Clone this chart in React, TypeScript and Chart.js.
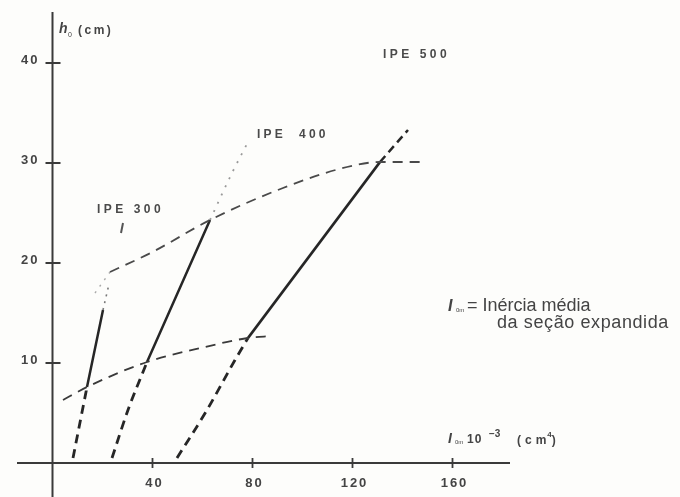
import { useEffect, useRef } from "react";
import { Chart, registerables } from "chart.js";

Chart.register(...registerables);

type P = { x: number; y: number };

// Axis ticks
const xTicks = [40, 80, 120, 160];
const yTicks = [10, 20, 30, 40];

// IPE 300
const ipe300Lower: P[] = [{ x: 8.2, y: 0.5 }, { x: 13.8, y: 7.6 }];
const ipe300Solid: P[] = [{ x: 13.8, y: 7.6 }, { x: 20.2, y: 15.3 }];
const ipe300Dotted: P[] = [{ x: 20.2, y: 15.3 }, { x: 22.6, y: 17.9 }];
const ipe300Hint: P[] = [{ x: 27.4, y: 23.0 }, { x: 28.2, y: 24.0 }];

// IPE 400
const ipe400Lower: P[] = [{ x: 23.8, y: 0.5 }, { x: 30.2, y: 5.3 }, { x: 37.8, y: 10.1 }];
const ipe400Solid: P[] = [{ x: 37.8, y: 10.1 }, { x: 63, y: 24.3 }];
const ipe400Dotted: P[] = [{ x: 63, y: 24.3 }, { x: 71.8, y: 29 }, { x: 78.2, y: 32.1 }];

// IPE 500
const ipe500Lower: P[] = [{ x: 49.8, y: 0.5 }, { x: 61.8, y: 5.3 }, { x: 73, y: 10.3 }, { x: 78.2, y: 12.5 }];
const ipe500Solid: P[] = [{ x: 78.2, y: 12.5 }, { x: 131, y: 30.1 }];
const ipe500Upper: P[] = [{ x: 131, y: 30.1 }, { x: 142.2, y: 33.3 }];

// Envelopes
const upperEnvDotted: P[] = [{ x: 17, y: 17 }, { x: 23, y: 19.1 }];
const upperEnv: P[] = [
  { x: 23, y: 19.1 }, { x: 40, y: 21.1 }, { x: 63, y: 24.3 }, { x: 92.2, y: 27.5 },
  { x: 117.8, y: 29.6 }, { x: 131, y: 30.1 }, { x: 147, y: 30.1 },
];
const lowerEnv: P[] = [
  { x: 4.2, y: 6.3 }, { x: 13.8, y: 7.6 }, { x: 37.8, y: 10.1 }, { x: 61, y: 11.6 },
  { x: 78.2, y: 12.5 }, { x: 87.8, y: 12.7 },
];

const INK = "#262626";
const FONT = "'Liberation Sans', Arial, sans-serif";

function line(data: P[], color: string, width: number, dash: number[]) {
  return {
    data,
    showLine: true,
    pointRadius: 0,
    pointHoverRadius: 0,
    fill: false,
    borderColor: color,
    borderWidth: width,
    borderDash: dash,
    cubicInterpolationMode: "monotone" as const,
    tension: 0.4,
  };
}

function put(ctx: any, text: string, x: number, y: number, font: string, spacing: number) {
  ctx.font = font;
  ctx.letterSpacing = spacing + "px";
  ctx.fillText(text, x, y);
  return x + ctx.measureText(text).width;
}

const decor = {
  id: "decor",
  beforeDraw(chart: any) {
    const ctx = chart.ctx;
    ctx.save();
    ctx.fillStyle = "#fdfdfb";
    ctx.fillRect(0, 0, chart.width, chart.height);
    ctx.restore();
  },
  beforeDatasetsDraw(chart: any) {
    const { ctx, chartArea } = chart;
    const xs = chart.scales.x;
    const ys = chart.scales.y;
    const x0 = xs.getPixelForValue(0);
    const y0 = ys.getPixelForValue(0);
    ctx.save();
    ctx.strokeStyle = "#3a3a3a";
    ctx.lineWidth = 2;
    ctx.beginPath();
    ctx.moveTo(x0, chartArea.top);
    ctx.lineTo(x0, chartArea.bottom);
    ctx.moveTo(chartArea.left, y0);
    ctx.lineTo(chartArea.right, y0);
    ctx.stroke();
    ctx.lineWidth = 1.8;
    ctx.beginPath();
    for (const t of yTicks) {
      const py = ys.getPixelForValue(t);
      ctx.moveTo(x0 - 7, py);
      ctx.lineTo(x0 + 8, py);
    }
    for (const t of xTicks) {
      const px = xs.getPixelForValue(t);
      ctx.moveTo(px, y0 - 5);
      ctx.lineTo(px, y0 + 5);
    }
    ctx.stroke();
    ctx.restore();
  },
  afterDraw(chart: any) {
    const { ctx } = chart;
    const xs = chart.scales.x;
    const ys = chart.scales.y;
    const x0 = xs.getPixelForValue(0);
    const y0 = ys.getPixelForValue(0);
    ctx.save();
    ctx.fillStyle = "#444";
    ctx.textBaseline = "alphabetic";
    ctx.letterSpacing = "2px";
    ctx.font = `bold 13px ${FONT}`;
    ctx.textAlign = "right";
    for (const t of yTicks) {
      ctx.fillText(String(t), x0 - 13, ys.getPixelForValue(t) + 1);
    }
    ctx.textAlign = "center";
    for (const t of xTicks) {
      ctx.fillText(String(t), xs.getPixelForValue(t) + 2, y0 + 24);
    }

    ctx.textAlign = "left";
    // y-axis title h0(cm)
    put(ctx, "h", 59, 33, `italic bold 14px ${FONT}`, 0);
    put(ctx, "0", 68, 37, `7px ${FONT}`, 0);
    put(ctx, "(cm)", 78, 34, `bold 12px ${FONT}`, 2.5);

    // x-axis title
    put(ctx, "I", 448, 443, `italic bold 14px ${FONT}`, 0);
    put(ctx, "0m", 455, 444, `6px ${FONT}`, 0);
    put(ctx, "10", 467, 443, `bold 12px ${FONT}`, 1);
    put(ctx, "−3", 489, 437, `bold 10px ${FONT}`, 0);
    let px = put(ctx, "(cm", 517, 444, `bold 12px ${FONT}`, 4);
    px = put(ctx, "4", px - 3, 437, `bold 8px ${FONT}`, 0);
    put(ctx, ")", px, 444, `bold 12px ${FONT}`, 0);

    // IPE labels
    ctx.fillStyle = "#4a4a4a";
    put(ctx, "IPE 300", 97, 213, `bold 12px ${FONT}`, 3.5);
    put(ctx, "IPE  400", 257, 138, `bold 12px ${FONT}`, 3.2);
    put(ctx, "IPE 500", 383, 58, `bold 12px ${FONT}`, 3.5);

    // Legend note
    ctx.fillStyle = "#444";
    put(ctx, "I", 448, 311, `italic bold 16px ${FONT}`, 0);
    put(ctx, "0m", 456, 312, `6px ${FONT}`, 0);
    put(ctx, "= Inércia média", 467, 311, `18px ${FONT}`, 0);
    put(ctx, "da seção expandida", 497, 328, `18px ${FONT}`, 0.6);
    ctx.restore();
  },
};

export default function App() {
  const ref = useRef<HTMLCanvasElement | null>(null);
  useEffect(() => {
    if (!ref.current) return;
    const chart = new Chart(ref.current, {
      type: "scatter",
      data: {
        datasets: [
          line(lowerEnv, "#3a3a3a", 1.8, [10, 7]),
          line(upperEnv, "#4a4a4a", 1.8, [10, 7]),
          line(upperEnvDotted, "#aaa", 1.4, [2, 6]),
          line(ipe300Lower, INK, 2.8, [9, 6]),
          line(ipe300Solid, INK, 2.5, []),
          line(ipe300Dotted, "#777", 1.6, [2, 5]),
          line(ipe300Hint, "#555", 2, []),
          line(ipe400Lower, INK, 2.8, [9, 6]),
          line(ipe400Solid, INK, 2.5, []),
          line(ipe400Dotted, "#999", 1.8, [2, 7]),
          line(ipe500Lower, INK, 2.8, [9, 6]),
          line(ipe500Solid, INK, 2.8, []),
          line(ipe500Upper, INK, 2.5, [8, 5]),
        ] as any,
      },
      options: {
        animation: false,
        responsive: true,
        maintainAspectRatio: false,
        layout: { padding: { left: 17, right: 170, top: 12, bottom: 0 } },
        plugins: { legend: { display: false }, tooltip: { enabled: false } },
        events: [],
        scales: {
          x: { type: "linear", display: false, min: -14.2, max: 183 },
          y: { type: "linear", display: false, min: -3.4, max: 45.1 },
        },
      },
      plugins: [decor],
    });
    return () => chart.destroy();
  }, []);
  return (
    <div style={{ position: "fixed", left: 0, top: 0, width: 680, height: 497, background: "#fdfdfb" }}>
      <canvas ref={ref} />
    </div>
  );
}
